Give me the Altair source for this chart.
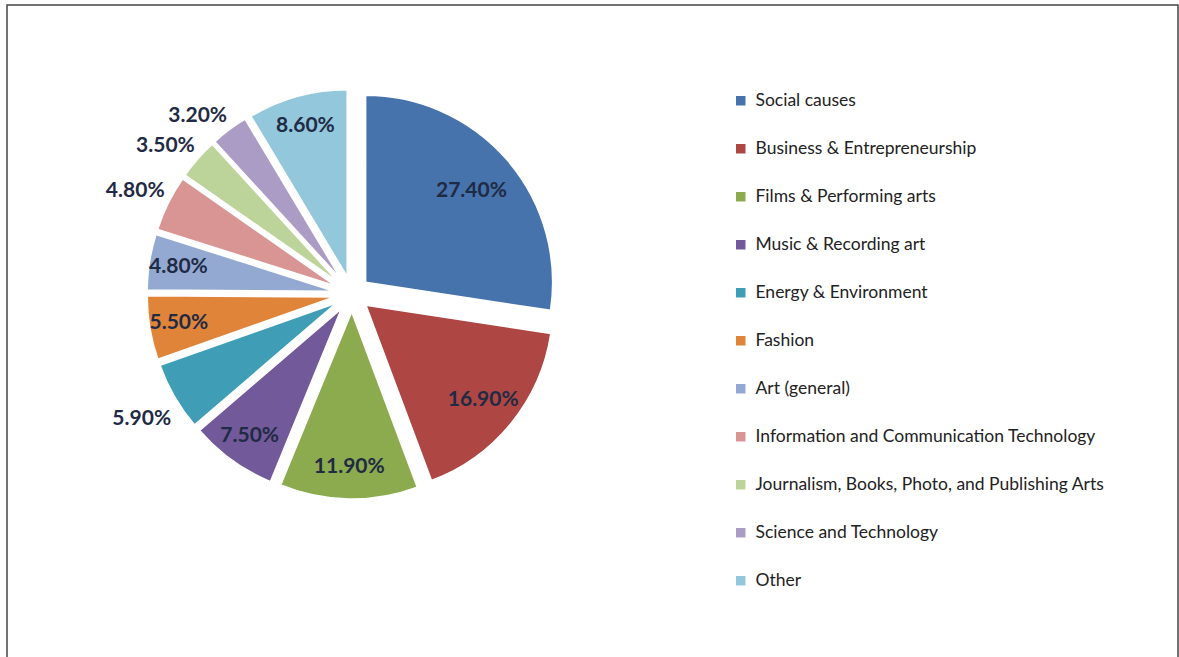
import altair as alt
import pandas as pd

# ---- data ----
categories = [
    "Social causes",
    "Business & Entrepreneurship",
    "Films & Performing arts",
    "Music & Recording art",
    "Energy & Environment",
    "Fashion",
    "Art (general)",
    "Information and Communication Technology",
    "Journalism, Books, Photo, and Publishing Arts",
    "Science and Technology",
    "Other",
]
shares = [27.4, 16.9, 11.9, 7.5, 5.9, 5.5, 4.8, 4.8, 3.5, 3.2, 8.6]
colors = [
    "#4673AC", "#AE4643", "#8CAB4E", "#71599A", "#3F9DB5", "#DF8439",
    "#93A9D2", "#D99594", "#BCD39A", "#AB9CC5", "#93C7DB",
]
outside_labels = [
    "Energy & Environment",
    "Information and Communication Technology",
    "Journalism, Books, Photo, and Publishing Arts",
    "Science and Technology",
]

df = pd.DataFrame({
    "category": categories,
    "share": shares,
    "order": list(range(len(categories))),
    "outside": [c in outside_labels for c in categories],
})

# ---- layout constants ----
CX, CY, R, EXPLODE = 352, 294, 187, 18
IN_FACTOR = 1.27      # inside label at ~1.27 x sector centroid distance
OUT_GAP = 4           # outside label gap beyond the rim
UP_OFF = 10           # vertical shift for labels above centre
DOWN_OFF = 20         # vertical shift for labels below centre
LABEL_FONT = 21

base = (
    alt.Chart(df)
    .transform_window(cum="sum(share)", sort=[alt.SortField("order")], frame=[None, 0])
    .transform_joinaggregate(total="sum(share)")
    .transform_calculate(t0="(datum.cum - datum.share) / datum.total * 2 * PI")
    .transform_calculate(t1="datum.cum / datum.total * 2 * PI")
    .transform_calculate(mid="(datum.t0 + datum.t1) / 2")
    .transform_calculate(half="(datum.t1 - datum.t0) / 2")
    .transform_calculate(cx=f"{CX} + {EXPLODE} * sin(datum.mid)")
    .transform_calculate(cy=f"{CY} - {EXPLODE} * cos(datum.mid)")
    .transform_calculate(
        rin=f"{IN_FACTOR} * 2 * {R} * sin(datum.half) / (3 * datum.half)"
    )
    .transform_calculate(ix="datum.cx + datum.rin * sin(datum.mid)")
    .transform_calculate(iy="datum.cy - datum.rin * cos(datum.mid)")
    .transform_calculate(ox=f"datum.cx + {R + OUT_GAP} * sin(datum.mid)")
    .transform_calculate(
        oy=f"datum.cy - {R + OUT_GAP} * cos(datum.mid) + (cos(datum.mid) > 0 ? -{UP_OFF} : {DOWN_OFF})"
    )
    .transform_calculate(label="format(datum.share, '.2f') + '%'")
)

arcs = base.mark_arc(outerRadius=R, stroke="white", strokeWidth=1.5).encode(
    x=alt.X("cx:Q", scale=None, axis=None),
    y=alt.Y("cy:Q", scale=None, axis=None),
    theta=alt.Theta("t0:Q", scale=None, stack=None),
    theta2="t1:Q",
    color=alt.Color(
        "category:N",
        scale=alt.Scale(domain=categories, range=colors),
        sort=categories,
        legend=alt.Legend(
            title=None,
            orient="none",
            legendX=732,
            legendY=92,
            symbolType="square",
            symbolSize=90,
            symbolStrokeWidth=0,
            labelFont="Lato",
            labelFontSize=17.5,
            labelColor="#222222",
            labelOffset=6,
            labelLimit=500,
            rowPadding=29,
            padding=0,
        ),
    ),
)

inside_labels = base.transform_filter("!datum.outside").mark_text(
    font="Lato", fontWeight="bold", fontSize=LABEL_FONT, color="#1F2A44",
    align="center", baseline="middle",
).encode(
    x=alt.X("ix:Q", scale=None, axis=None),
    y=alt.Y("iy:Q", scale=None, axis=None),
    text="label:N",
)

outside_text = base.transform_filter("datum.outside").mark_text(
    font="Lato", fontWeight="bold", fontSize=LABEL_FONT, color="#1F2A44",
    align="right", baseline="middle",
).encode(
    x=alt.X("ox:Q", scale=None, axis=None),
    y=alt.Y("oy:Q", scale=None, axis=None),
    text="label:N",
)

frame = alt.Chart(pd.DataFrame({"k": [0]})).mark_rect(
    filled=False, stroke="#444444", strokeWidth=1.5
).encode(
    x=alt.value(7), x2=alt.value(1178), y=alt.value(5), y2=alt.value(720)
)

chart = (
    alt.layer(frame, arcs, inside_labels, outside_text)
    .properties(width=1179, height=657, padding=0, autosize="none", background="white")
    .configure_view(strokeOpacity=0)
)

chart.save("out.html", embed_options={"renderer": "svg", "actions": False})
